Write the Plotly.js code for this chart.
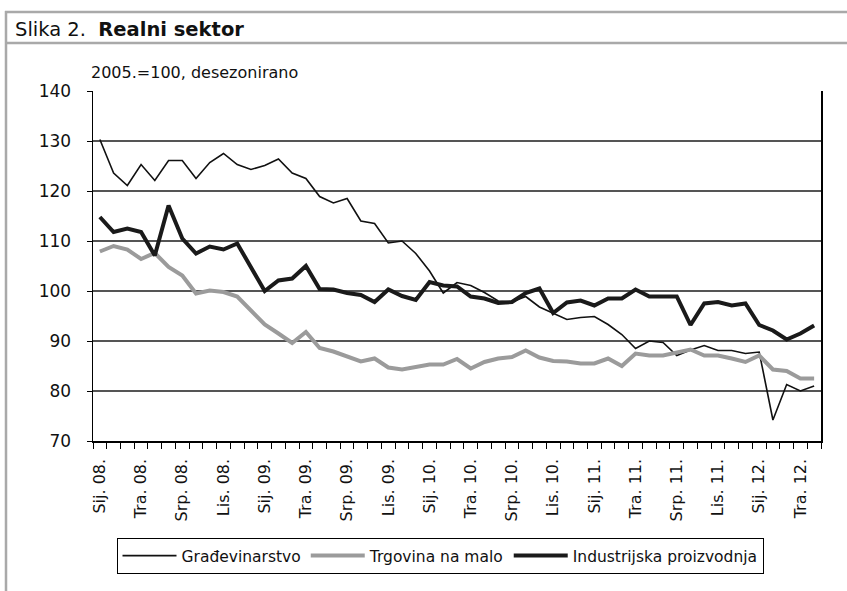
<!DOCTYPE html>
<html>
<head>
<meta charset="utf-8">
<script src="https://cdn.plot.ly/plotly-3.0.1.min.js"></script>
<style>
  html, body { margin: 0; padding: 0; background: #fff; }
  #chart { width: 847px; height: 591px; }
</style>
</head>
<body>
<div id="chart"></div>
<script>
// Monthly labels, Jan 2008 – May 2012 (Croatian month abbreviations)
var months = [
  "Sij. 08.","Velj. 08.","Ožu. 08.","Tra. 08.","Svi. 08.","Lip. 08.","Srp. 08.","Kol. 08.","Ruj. 08.","Lis. 08.","Stu. 08.","Pro. 08.",
  "Sij. 09.","Velj. 09.","Ožu. 09.","Tra. 09.","Svi. 09.","Lip. 09.","Srp. 09.","Kol. 09.","Ruj. 09.","Lis. 09.","Stu. 09.","Pro. 09.",
  "Sij. 10.","Velj. 10.","Ožu. 10.","Tra. 10.","Svi. 10.","Lip. 10.","Srp. 10.","Kol. 10.","Ruj. 10.","Lis. 10.","Stu. 10.","Pro. 10.",
  "Sij. 11.","Velj. 11.","Ožu. 11.","Tra. 11.","Svi. 11.","Lip. 11.","Srp. 11.","Kol. 11.","Ruj. 11.","Lis. 11.","Stu. 11.","Pro. 11.",
  "Sij. 12.","Velj. 12.","Ožu. 12.","Tra. 12.","Svi. 12."
];

var gradevinarstvo = [
  130.3, 123.6, 121.1, 125.3, 122.1, 126.1, 126.1, 122.5, 125.7, 127.5,
  125.3, 124.3, 125.1, 126.4, 123.6, 122.5, 118.9, 117.6, 118.5, 114.0,
  113.5, 109.6, 110.0, 107.5, 104.0, 99.6, 101.7, 101.1, 99.7, 98.0,
  97.8, 98.9, 96.8, 95.5, 94.3, 94.7, 94.9, 93.3, 91.3, 88.5,
  90.0, 89.7, 87.1, 88.2, 89.1, 88.1, 88.1, 87.5, 87.8, 74.2,
  81.3, 80.0, 81.0
];

var trgovina = [
  107.9, 109.0, 108.3, 106.4, 107.6, 104.8, 103.1, 99.5, 100.1, 99.8,
  98.9, 96.1, 93.3, 91.5, 89.6, 91.8, 88.6, 87.9, 86.8, 85.9,
  86.5, 84.7, 84.3, 84.9, 85.3, 85.3, 86.4, 84.5, 85.8, 86.5,
  86.8, 88.1, 86.7, 86.0, 85.9, 85.5, 85.5, 86.5, 85.0, 87.5,
  87.1, 87.1, 87.8, 88.3, 87.1, 87.1, 86.5, 85.8, 87.1, 84.3,
  84.0, 82.5, 82.5
];

var industrija = [
  114.8, 111.8, 112.5, 111.8, 107.1, 117.1, 110.5, 107.5, 108.9, 108.3,
  109.5, 104.8, 100.0, 102.1, 102.5, 105.0, 100.4, 100.3, 99.6, 99.2,
  97.8, 100.3, 99.0, 98.2, 101.8, 101.1, 100.9, 98.9, 98.5, 97.6,
  97.8, 99.6, 100.5, 95.6, 97.7, 98.1, 97.1, 98.5, 98.5, 100.3,
  98.9, 98.9, 98.9, 93.2, 97.5, 97.8, 97.1, 97.5, 93.2, 92.1,
  90.3, 91.5, 93.1
];

var seriesNames = ["Građevinarstvo", "Trgovina na malo", "Industrijska proizvodnja"];
var yTicks = [70, 80, 90, 100, 110, 120, 130, 140];

var xIdx = months.map(function (m, i) { return i; });
var tickIdx = xIdx.filter(function (i) { return i % 3 === 0; });
var tickTxt = tickIdx.map(function (i) { return months[i]; });

var FONT = "DejaVu Sans, Liberation Sans, Arial, sans-serif";

// plot area in pixels
var L = 93, R = 821, T = 91, B = 441;
function px(x) { return (x - L) / (R - L); }
function py(y) { return (B - y) / (B - T); }

var traces = [
  { x: xIdx, y: gradevinarstvo, name: seriesNames[0], type: "scatter", mode: "lines",
    line: { color: "#111111", width: 1.6 } },
  { x: xIdx, y: trgovina, name: seriesNames[1], type: "scatter", mode: "lines",
    line: { color: "#9b9b9b", width: 4 } },
  { x: xIdx, y: industrija, name: seriesNames[2], type: "scatter", mode: "lines",
    line: { color: "#1a1a1a", width: 4 } }
];

var frameColor = "#a9a9a9";
var layout = {
  width: 847, height: 591,
  margin: { l: L, r: 847 - R, t: T, b: 591 - B },
  paper_bgcolor: "#ffffff", plot_bgcolor: "#ffffff",
  font: { family: FONT, color: "#111111", size: 15 },
  showlegend: true,
  legend: {
    orientation: "h",
    x: px(440), xanchor: "center",
    y: py(556), yanchor: "middle",
    bordercolor: "#000000", borderwidth: 1,
    bgcolor: "#ffffff",
    itemwidth: 54,
    font: { family: FONT, size: 15.5, color: "#111111" },
    itemclick: false
  },
  xaxis: {
    range: [-0.5, months.length - 0.5],
    tickmode: "array", tickvals: tickIdx, ticktext: tickTxt,
    tickangle: -90,
    ticks: "",
    ticklabelstandoff: 10,
    tickfont: { family: FONT, size: 16, color: "#111111" },
    showgrid: false, zeroline: false,
    showline: true, linecolor: "#000000", linewidth: 1.5,
    minor: { tickmode: "linear", tick0: 0.5, dtick: 1, ticks: "outside", ticklen: 6,
             tickcolor: "#000000", tickwidth: 1, showgrid: false }
  },
  yaxis: {
    range: [70, 140],
    tickmode: "array", tickvals: yTicks,
    ticks: "outside", ticklen: 5, tickcolor: "#000000", tickwidth: 1,
    ticklabelstandoff: 12,
    tickfont: { family: FONT, size: 17, color: "#111111" },
    showgrid: true, gridcolor: "#555555", gridwidth: 1.5,
    zeroline: false,
    showline: true, linecolor: "#000000", linewidth: 1.5, mirror: true
  },
  shapes: [
    { type: "line", xref: "paper", yref: "paper", x0: px(5), x1: px(847), y0: py(12), y1: py(12),
      line: { color: frameColor, width: 2.5 } },
    { type: "line", xref: "paper", yref: "paper", x0: px(5), x1: px(847), y0: py(43), y1: py(43),
      line: { color: frameColor, width: 2.5 } },
    { type: "line", xref: "paper", yref: "paper", x0: px(6), x1: px(6), y0: py(11), y1: py(591),
      line: { color: frameColor, width: 2.5 } }
  ],
  annotations: [
    { xref: "paper", yref: "paper", x: px(13), y: py(29), xanchor: "left", yanchor: "middle",
      showarrow: false, text: "Slika 2.  <b>Realni sektor</b>",
      font: { family: FONT, size: 19.5, color: "#111111" } },
    { xref: "paper", yref: "paper", x: px(89), y: py(72), xanchor: "left", yanchor: "middle",
      showarrow: false, text: "2005.=100, desezonirano",
      font: { family: FONT, size: 16, color: "#111111" } }
  ]
};

Plotly.newPlot("chart", traces, layout, { staticPlot: true, displayModeBar: false });
</script>
</body>
</html>
